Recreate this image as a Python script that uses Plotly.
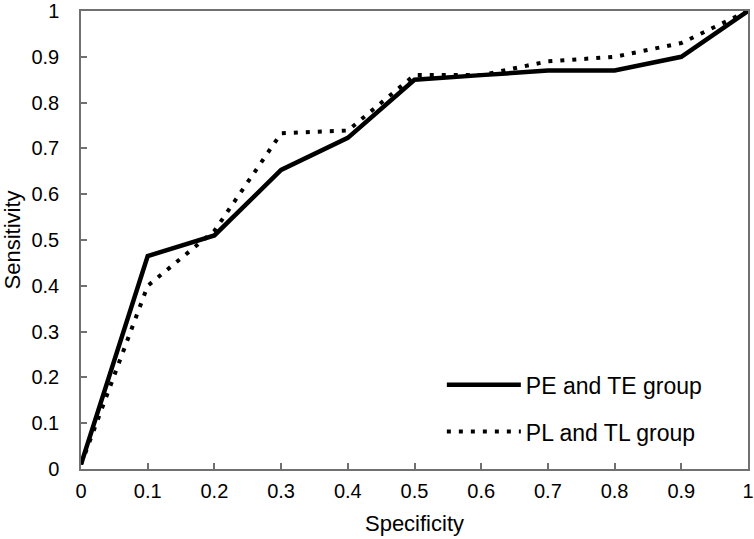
import plotly.graph_objects as go

specificity = [0, 0.1, 0.2, 0.3, 0.4, 0.5, 0.6, 0.7, 0.8, 0.9, 1.0]
pe_te = [0.01, 0.465, 0.51, 0.653, 0.723, 0.85, 0.86, 0.87, 0.87, 0.90, 1.0]
pl_tl = [0.01, 0.40, 0.52, 0.733, 0.739, 0.86, 0.86, 0.89, 0.90, 0.93, 1.0]
tick_vals = [0, 0.1, 0.2, 0.3, 0.4, 0.5, 0.6, 0.7, 0.8, 0.9, 1]
tick_text = ["0", "0.1", "0.2", "0.3", "0.4", "0.5", "0.6", "0.7", "0.8", "0.9", "1"]

FONT = "Liberation Sans, Arial, sans-serif"

fig = go.Figure()
fig.add_trace(go.Scatter(x=specificity, y=pe_te, mode="lines", name="PE and TE group",
                         legendgroup="a",
                         line=dict(color="black", width=4.5)))
fig.add_trace(go.Scatter(x=specificity, y=pl_tl, mode="lines", name="PL and TL group",
                         legendgroup="b",
                         line=dict(color="black", width=4, dash="4px,8px")))

axis_common = dict(
    showline=True, mirror=True, linecolor="#707070", linewidth=1.5,
    ticks="inside", ticklen=6, tickcolor="#707070", tickwidth=1.5,
    showgrid=False, zeroline=False, automargin=False,
    tickfont=dict(family=FONT, size=20, color="black"),
    tickvals=tick_vals, ticktext=tick_text,
)

fig.update_layout(
    width=754, height=539,
    margin=dict(l=81, r=6, t=11, b=70),
    paper_bgcolor="white", plot_bgcolor="white",
    font=dict(family=FONT, color="black"),
    xaxis=dict(range=[0, 1], title=dict(text="Specificity", font=dict(size=22), standoff=15),
               ticklabelstandoff=3, **axis_common),
    yaxis=dict(range=[0, 1], title=dict(text="Sensitivity", font=dict(size=22), standoff=7),
               ticklabelstandoff=16, **axis_common),
    legend=dict(x=0.541, y=0.231, xanchor="left", yanchor="top",
                bgcolor="rgba(0,0,0,0)", borderwidth=0,
                font=dict(size=23, color="black"),
                traceorder="grouped", tracegroupgap=14, itemwidth=74),
    showlegend=True,
)

fig.write_html("out.html",
               config={"displayModeBar": False},
               post_script="document.body.style.margin='0';document.body.style.padding='0';")
